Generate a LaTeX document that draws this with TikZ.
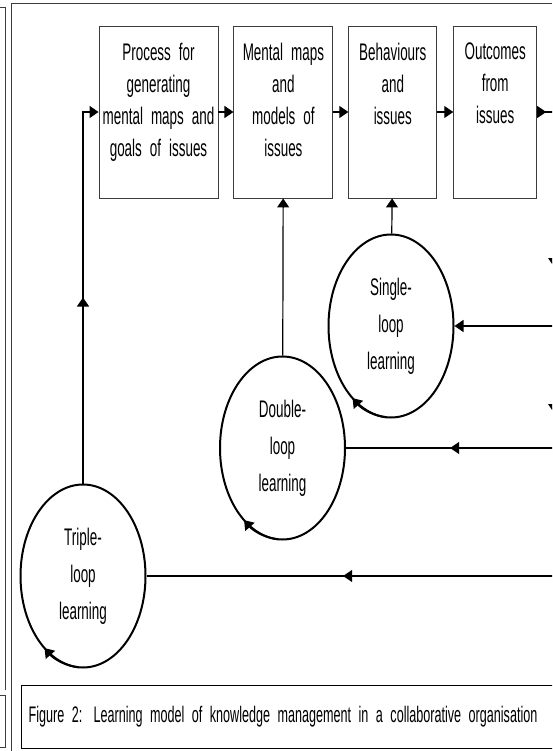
\documentclass[tikz,border=0pt]{standalone}
\usepackage{fontspec}
\setmainfont{Liberation Sans}[FakeStretch=0.56]
\usetikzlibrary{arrows.meta,positioning,shapes.geometric,decorations.markings}
\definecolor{edgegray}{HTML}{3C3C3C}
\newcommand{\narrowtext}[2]{\fontsize{#1}{#2}\selectfont\spaceskip=2.2pt plus 1pt\relax}
\newcommand{\stagetext}[1]{\parbox[c][138pt][t]{\linewidth}{\centering #1}}

\begin{document}
\begin{tikzpicture}[
  x=1pt,y=-1pt,
  node distance=15pt,
  stage/.style={draw=edgegray,line width=0.9pt,minimum height=172pt,inner sep=0pt,
    font=\narrowtext{24}{32}},
  loopnode/.style={ellipse,draw,line width=2pt,minimum width=125pt,minimum height=183pt,
    inner sep=0pt,align=center,font=\narrowtext{24}{37}},
  conn/.style={line width=1.2pt},
  line/.style={conn,-{Triangle[length=9pt,width=12pt]}},
  arrowat/.style={postaction={decorate,decoration={markings,
    mark=at position #1 with {\arrow{Triangle[length=9pt,width=12pt]}}}}}
]
\useasboundingbox (0,0) rectangle (552,751);
\clip (0,0) rectangle (552,751);
% page frame
\draw[edgegray,line width=1pt] (11,751) -- (11,4) -- (552,4);
\draw[edgegray,line width=1pt] (0,8) -- (5,8) -- (5,690);
\draw[edgegray,line width=1pt] (0,695) -- (5,695) -- (5,747) -- (0,747);

% top row
\node[stage,text width=119pt] (gen) at (158.5,112)
  {\stagetext{Process for\\generating\\mental maps and\\goals of issues}};
\node[stage,text width=99pt,right=of gen] (maps)
  {\stagetext{Mental maps\\and\\models of\\issues}};
\node[stage,text width=88pt,right=of maps] (behav)
  {\stagetext{Behaviours\\and\\issues}};
\node[stage,text width=83pt,right=16pt of behav] (outc)
  {\stagetext{Outcomes\\from\\issues}};

% learning loops
\node[loopnode] (single) at (391,326) {Single-\\loop\\learning};
\node[loopnode] (double) at (282.5,448) {Double-\\loop\\learning};
\node[loopnode] (triple) at (83,576) {Triple-\\loop\\learning};

\foreach \n in {single,double,triple}
  \draw[line,line width=2pt] ([shift={(\n.center)}]266:62.5pt and 91.5pt)
    arc[start angle=266,end angle=232,x radius=62.5pt,y radius=91.5pt];

\coordinate (fbtop) at ([xshift=17pt]outc.east);

\draw[line] (gen) -- (maps);
\draw[line] (maps) -- (behav);
\draw[line] (behav) -- (outc);
\draw[line] (single) -- (behav);
\draw[line] (double) -- (maps);
\draw[line,arrowat=186pt] (triple.north) |- (gen.west);

% feedback
\draw[conn,arrowat=9pt,arrowat=172pt,arrowat=318pt,arrowat=692pt]
  (outc.east) -- (fbtop) |- (triple.east);
\draw[line] (fbtop |- single.east) -- (single.east);
\draw[conn,arrowat=104pt] (fbtop |- double.east) -- (double.east);

\node[draw,line width=1.2pt,anchor=north west,minimum height=63pt,text width=531pt,
  inner xsep=7pt,inner ysep=0pt,align=left,font=\narrowtext{22.5}{26}] (caption)
  at (21,685) {Figure 2: Learning model of knowledge management in a collaborative organisation};
\end{tikzpicture}
\end{document}
